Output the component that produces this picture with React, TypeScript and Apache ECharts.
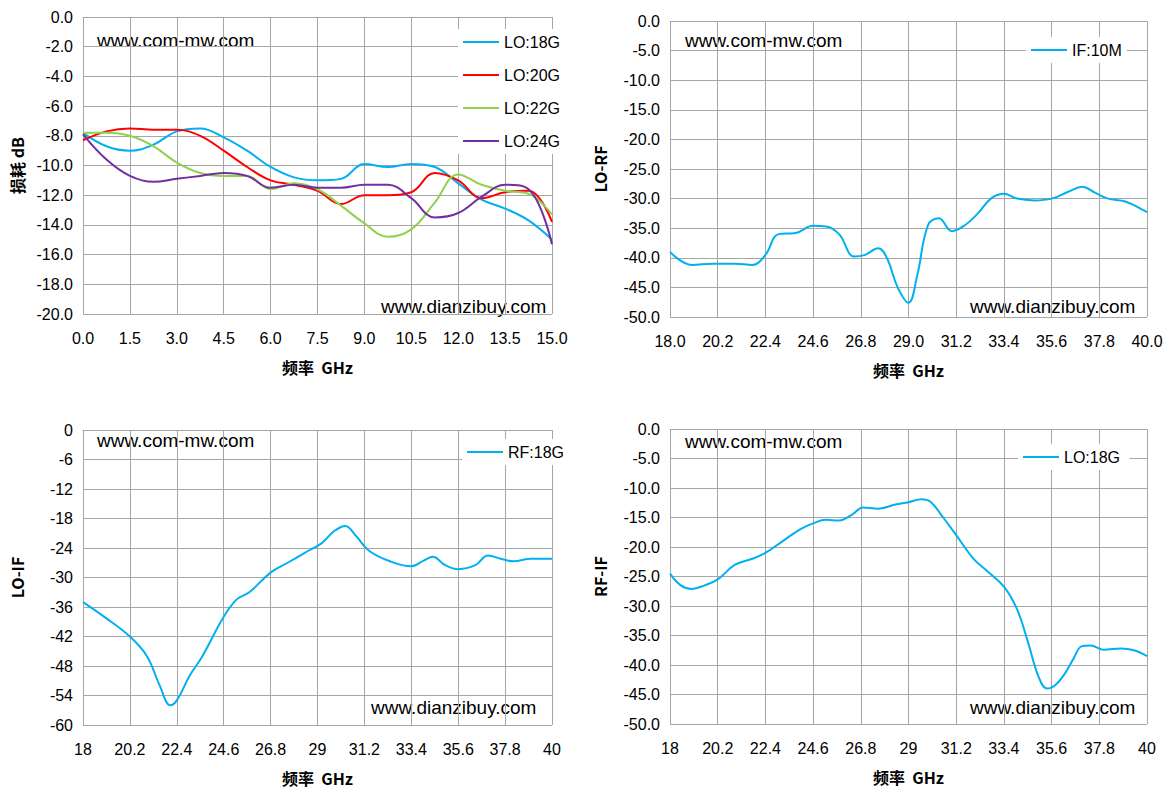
import React, { useEffect, useRef } from "react";
import * as echarts from "echarts";

const x1 = [0, 0.75, 1.5, 2.25, 3.0, 3.75, 4.5, 5.25, 6.0, 6.75, 7.5, 8.25, 9.0, 9.75, 10.5, 11.25, 12.0, 12.75, 13.5, 14.25, 15];
const lo18 = [-7.8, -8.7, -9.0, -8.6, -7.7, -7.5, -8.1, -9.0, -10.1, -10.8, -11.0, -10.9, -9.9, -10.1, -9.9, -10.1, -11.2, -12.3, -12.9, -13.7, -15.0];
const lo20 = [-8.3, -7.7, -7.5, -7.6, -7.6, -8.0, -9.0, -10.1, -11.0, -11.3, -11.7, -12.6, -12.0, -12.0, -11.8, -10.5, -11.0, -12.2, -11.8, -11.7, -13.8];
const lo22 = [-7.8, -7.8, -8.0, -8.7, -9.8, -10.5, -10.7, -10.7, -11.6, -11.2, -11.6, -12.7, -13.9, -14.8, -14.3, -12.5, -10.6, -11.3, -11.7, -11.9, -13.3];
const lo24 = [-7.9, -9.6, -10.7, -11.1, -10.9, -10.7, -10.5, -10.7, -11.5, -11.3, -11.5, -11.5, -11.3, -11.3, -12.2, -13.5, -13.2, -12.1, -11.3, -11.6, -15.3];

const loRfX = [18, 19, 20, 21, 21.8, 22.4, 23, 23.8, 24.6, 25.2, 25.8, 26.5, 27, 27.6, 28, 28.5, 29, 29.4, 29.9, 30.4, 31, 31.6, 32.2, 32.8, 33.4, 34, 34.8, 35.6, 36.4, 37, 37.6, 38.2, 39, 40];
const loRfY = [-39, -41.2, -41, -41, -41.2, -39.5, -36, -35.8, -34.6, -34.7, -36, -39.8, -39.5, -38.4, -40, -45, -47.6, -43, -34.5, -33.3, -35.5, -34.5, -32.5, -30, -29.2, -30, -30.3, -30, -28.8, -28, -29, -30, -30.5, -32.3];

const loIfX = [18, 19, 20.2, 21, 21.6, 22.1, 22.4, 23, 23.6, 24.6, 25.2, 25.8, 26.8, 27.6, 28.4, 29.2, 29.8, 30.3, 30.8, 31.4, 32.4, 33.4, 34, 34.4, 35, 35.6, 36.4, 37, 37.6, 38.2, 39, 40];
const loIfY = [-35, -38, -42, -46, -52, -56, -55, -50, -46, -38, -34.5, -33, -29, -27, -25, -23, -20.5, -19.5, -21.5, -24.5, -26.7, -27.7, -26.5, -25.8, -27.5, -28.3, -27.5, -25.5, -26.2, -26.7, -26.2, -26.2];

const rfIfX = [18, 18.5, 19, 19.6, 20.2, 21, 21.8, 22.4, 23.2, 24, 24.6, 25.2, 25.8, 26.4, 26.9, 27.6, 28.4, 29, 29.6, 30, 30.6, 31.2, 32, 32.6, 33.4, 34, 34.5, 35, 35.4, 35.8, 36.2, 36.6, 37, 37.4, 38, 38.8, 39.4, 40];
const rfIfY = [-24.5, -26.5, -27.1, -26.5, -25.5, -23, -22, -21, -19, -17, -16, -15.4, -15.5, -14.5, -13.3, -13.5, -12.8, -12.4, -11.9, -12.3, -15, -18, -22, -24, -26.7, -30.5, -36, -42, -44, -43.3, -41.5, -39, -36.8, -36.7, -37.4, -37.2, -37.5, -38.5];

const BLUE = "#00b0f0", RED = "#ff0000", GREEN = "#92d050", PURPLE = "#7030a0";
const FONT = "Liberation Sans";
const grids = [
  { left: 83, top: 17, width: 469, height: 297 },
  { left: 670, top: 21, width: 477, height: 296 },
  { left: 83, top: 430, width: 469, height: 295 },
  { left: 670, top: 429, width: 477, height: 295 },
];
const zip = (xs: number[], ys: number[]) => xs.map((x, i) => [x, ys[i]]);
const GL = "#a6a6a6";

function xAxis(gi: number, min: number, max: number, interval: number, fmt: (v: number) => string) {
  return {
    type: "value", gridIndex: gi, min, max, interval,
    axisLine: { show: true, lineStyle: { color: GL } }, axisTick: { show: false },
    splitLine: { show: true, lineStyle: { color: GL } },
    axisLabel: { color: "#000", fontSize: 16, fontFamily: FONT, margin: 16, formatter: fmt },
    name: "频率  GHz", nameLocation: "middle", nameGap: 45,
    nameTextStyle: { fontSize: 16, fontWeight: "bold", fontFamily: "Noto Sans CJK SC", color: "#000" },
  };
}
function yAxis(gi: number, min: number, interval: number, name: string, fmt: (v: number) => string, gap: number) {
  return {
    type: "value", gridIndex: gi, min, max: 0, interval,
    axisLine: { show: false }, axisTick: { show: false },
    splitLine: { show: true, lineStyle: { color: GL } },
    axisLabel: { color: "#000", fontSize: 16, fontFamily: FONT, margin: 10, formatter: fmt },
    name, nameLocation: "middle", nameGap: gap, nameRotate: 90,
    nameTextStyle: { fontSize: 16, fontWeight: "bold", fontFamily: "Noto Sans CJK SC", color: "#000" },
  };
}
const f1 = (v: number) => v.toFixed(1);
const fg = (v: number) => String(Number(v.toFixed(1)));
const line = (name: string, color: string, xi: number, data: number[][]) => ({
  type: "line", name, xAxisIndex: xi, yAxisIndex: xi, data, smooth: 0.4, showSymbol: false,
  lineStyle: { color, width: 2 }, itemStyle: { color },
});
const legendBase = {
  orient: "vertical", itemWidth: 36, itemHeight: 2, icon: "rect", itemGap: 17,
  textStyle: { fontSize: 16, fontFamily: FONT, color: "#000" },
};
const wm = (left: number, top: number, text: string) => ({
  type: "text", left, top, style: { text, fontSize: 19, fontFamily: FONT, fill: "#000" },
});

export default function App() {
  const ref = useRef<HTMLDivElement>(null);
  useEffect(() => {
    const chart = echarts.init(ref.current!, null, { renderer: "svg" });
    chart.setOption({
      animation: false,
      backgroundColor: "#fff",
      grid: grids,
      xAxis: [
        xAxis(0, 0, 15, 1.5, f1),
        xAxis(1, 18, 40, 2.2, f1),
        xAxis(2, 18, 40, 2.2, fg),
        xAxis(3, 18, 40, 2.2, fg),
      ],
      yAxis: [
        yAxis(0, -20, 2, "损耗 dB", f1, 58),
        yAxis(1, -50, 5, "LO-RF", f1, 62),
        yAxis(2, -60, 6, "LO-IF", (v) => String(v), 58),
        yAxis(3, -50, 5, "RF-IF", f1, 62),
      ],
      legend: [
        { ...legendBase, data: ["LO:18G", "LO:20G", "LO:22G", "LO:24G"], left: 458, top: 29, backgroundColor: "#fff" },
        { ...legendBase, data: ["IF:10M"], left: 1026, top: 37, backgroundColor: "#fff" },
        { ...legendBase, data: ["RF:18G"], left: 462, top: 439, backgroundColor: "#fff" },
        { ...legendBase, data: ["LO:18G "], left: 1018, top: 444, backgroundColor: "#fff" },
      ],
      series: [
        line("LO:18G", BLUE, 0, zip(x1, lo18)),
        line("LO:20G", RED, 0, zip(x1, lo20)),
        line("LO:22G", GREEN, 0, zip(x1, lo22)),
        line("LO:24G", PURPLE, 0, zip(x1, lo24)),
        line("IF:10M", BLUE, 1, zip(loRfX, loRfY)),
        line("RF:18G", BLUE, 2, zip(loIfX, loIfY)),
        line("LO:18G ", BLUE, 3, zip(rfIfX, rfIfY)),
      ],
      graphic: [
        wm(97, 31, "www.com-mw.com"),
        wm(685, 31, "www.com-mw.com"),
        wm(97, 431, "www.com-mw.com"),
        wm(685, 432, "www.com-mw.com"),
        wm(381, 297, "www.dianzibuy.com"),
        wm(970, 297, "www.dianzibuy.com"),
        wm(371, 698, "www.dianzibuy.com"),
        wm(970, 698, "www.dianzibuy.com"),
      ],
    });
    return () => chart.dispose();
  }, []);
  return <div ref={ref} style={{ position: "fixed", left: 0, top: 0, width: 1171, height: 800 }} />;
}
